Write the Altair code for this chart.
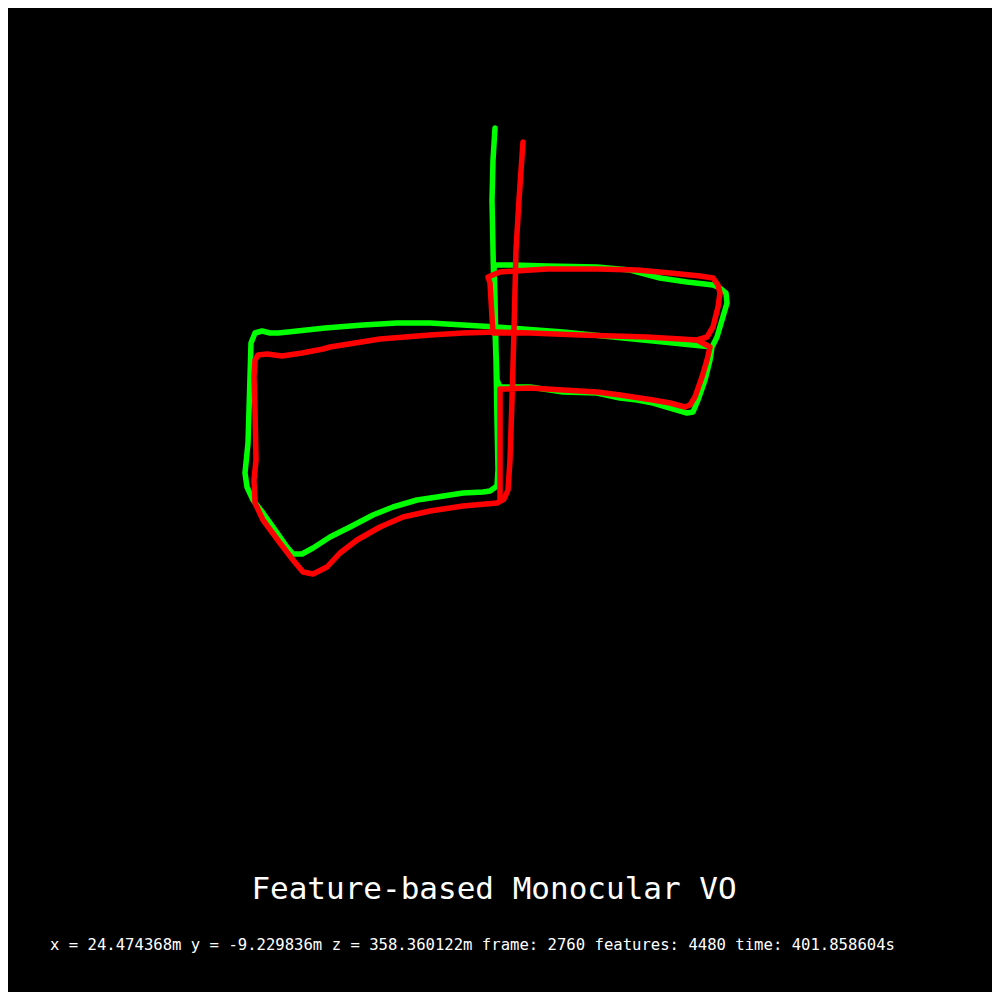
import pandas as pd
import altair as alt

# trajectory points in map units (top-down view, y grows downward)
gt_x = [495, 493, 492, 493, 494, 496, 497, 498, 497, 490,
        483, 463, 437, 417, 393, 373, 350, 330, 313, 302, 293, 287, 273, 263, 253, 247, 245,
        248, 249, 250, 251, 255, 262, 270, 278, 288, 325, 363, 397, 430, 463, 497, 523,
        563, 613, 663, 712,
        717, 722, 727, 726, 720, 713, 687, 660, 630, 597, 547, 513, 494,
        495, 496, 497, 500, 530, 563, 597, 620, 637, 653, 670, 687, 693, 698, 705, 710, 712]
gt_y = [128, 160, 200, 250, 300, 360, 420, 470, 486, 491,
        492, 493, 497, 500, 507, 515, 527, 537, 548, 554, 554, 547, 527, 513, 500, 487, 473,
        443, 410, 377, 343, 333, 331, 333, 333, 332, 328, 325, 323, 323, 325, 327, 329,
        332, 337, 342, 347,
        337, 320, 303, 293, 288, 285, 282, 278, 270, 267, 266, 265, 265,
        300, 350, 380, 387, 387, 392, 393, 398, 400, 403, 408, 413, 412, 400, 380, 360, 347]

vo_x = [523, 519, 516, 514, 512, 510, 508, 504, 497,
        463, 430, 403, 380, 357, 340, 327, 313, 303, 293, 280, 263, 255, 254,
        256, 255, 254, 255, 258, 267, 282, 302, 323, 330, 380, 430, 463, 497, 530,
        580, 647, 697, 707,
        713, 718, 720, 718, 713, 700, 670, 637, 597, 547, 500, 488,
        490, 492, 493, 530, 580, 647, 697, 710,
        707, 702, 695, 690, 685, 670, 653, 620, 597, 563, 530, 500,
        500, 500, 500]
vo_y = [142, 200, 250, 330, 400, 460, 490, 499, 503,
        506, 511, 517, 527, 540, 553, 567, 574, 572, 560, 543, 520, 503, 480,
        460, 410, 377, 360, 355, 354, 356, 353, 349, 347, 339, 335, 333, 332, 333,
        335, 337, 340, 337,
        327, 307, 293, 285, 278, 276, 273, 270, 269, 269, 272, 277,
        283, 317, 333, 333, 335, 337, 340, 347,
        360, 377, 397, 405, 407, 403, 400, 395, 392, 390, 388, 389,
        420, 460, 500]

title_text = "Feature-based Monocular VO"
status_text = ("x = 24.474368m y = -9.229836m z = 358.360122m "
               "frame: 2760 features: 4480 time: 401.858604s")

gt = pd.DataFrame({"x": gt_x, "y": gt_y, "i": range(len(gt_x)), "path": "ground truth"})
vo = pd.DataFrame({"x": vo_x, "y": vo_y, "i": range(len(vo_x)), "path": "estimate"})
paths = pd.concat([gt, vo])

xs = alt.Scale(domain=[8, 992], nice=False, zero=False)
ys = alt.Scale(domain=[8, 992], nice=False, zero=False, reverse=True)

lines = alt.Chart(paths).mark_line(strokeWidth=5.5, strokeCap="round", strokeJoin="round").encode(
    x=alt.X("x:Q", scale=xs, axis=None),
    y=alt.Y("y:Q", scale=ys, axis=None),
    order="i:Q",
    color=alt.Color("path:N", legend=None,
                    scale=alt.Scale(domain=["ground truth", "estimate"], range=["#00ff00", "#ff0000"])),
)

labels = pd.DataFrame({
    "x": [494, 50],
    "y": [899, 950],
    "t": [title_text, status_text],
})

title = alt.Chart(labels.iloc[[0]]).mark_text(
    color="white", fontSize=31, font="DejaVu Sans Mono", align="center", baseline="alphabetic"
).encode(x=alt.X("x:Q", scale=xs), y=alt.Y("y:Q", scale=ys), text="t:N")

status = alt.Chart(labels.iloc[[1]]).mark_text(
    color="white", fontSize=15.6, font="DejaVu Sans Mono", align="left", baseline="alphabetic"
).encode(x=alt.X("x:Q", scale=xs), y=alt.Y("y:Q", scale=ys), text="t:N")

chart = alt.layer(lines, title, status).properties(
    width=984, height=984, padding=0, background="black"
).configure_view(stroke=None)

chart.save("out.html", embed_options={"renderer": "svg", "actions": False})
